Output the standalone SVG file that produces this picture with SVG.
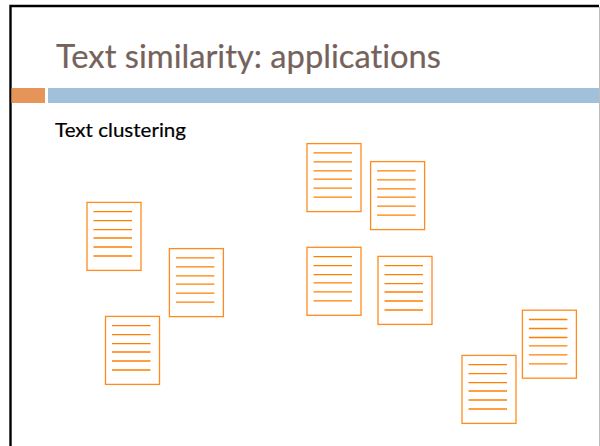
<svg xmlns="http://www.w3.org/2000/svg" width="600" height="446" viewBox="0 0 600 446">
<style>
.doc{fill:#fff;stroke:#ff8a1f;stroke-width:1.3}
.ln{stroke:#ff8000;stroke-width:1.3;fill:none}
.t{font-family:"Lato","Liberation Sans",sans-serif;font-variant-ligatures:none}
</style>
<defs>
<g id="page">
<rect class="doc" x="0" y="0" width="54" height="68"/>
<path class="ln" d="M6.5 9.3H45M6.5 18.3H45M6.5 27.3H45M6.5 35.6H45M6.5 44.6H45M6.5 53.6H45"/>
</g>
</defs>
<rect width="600" height="446" fill="#fff"/>
<g id="frame">
<path d="M10.5 446V6H599" fill="none" stroke="#000" stroke-width="2.4"/>
<path d="M599.5 7V446" fill="none" stroke="#bdbdbd" stroke-width="1"/>
</g>
<g id="bars">
<rect x="11.5" y="88" width="33.5" height="15" fill="#e59558"/>
<rect x="48" y="88" width="551" height="15" fill="#a1c1da"/>
</g>
<text class="t" x="56" y="68" font-size="32" fill="#75625a" stroke="#75625a" stroke-width="0.2" textLength="385" lengthAdjust="spacingAndGlyphs">Text similarity: applications</text>
<text class="t" x="55" y="136.5" font-size="19.5" fill="#000" stroke="#000" stroke-width="0.2" textLength="131" lengthAdjust="spacingAndGlyphs">Text clustering</text>
<g id="connectors"></g>
<g id="doc1"><use href="#page" x="87" y="202.4"/></g>
<g id="doc2"><use href="#page" x="169.4" y="248.6"/></g>
<g id="doc3"><use href="#page" x="105.5" y="316.4"/></g>
<g id="doc4"><use href="#page" x="307" y="143.6"/></g>
<g id="doc5"><use href="#page" x="370.6" y="161.6"/></g>
<g id="doc6"><use href="#page" x="307" y="247.3"/></g>
<g id="doc7"><use href="#page" x="378" y="256.4"/></g>
<g id="doc8"><use href="#page" x="462" y="355.4"/></g>
<g id="doc9"><use href="#page" x="522.4" y="310.2"/></g>
</svg>
